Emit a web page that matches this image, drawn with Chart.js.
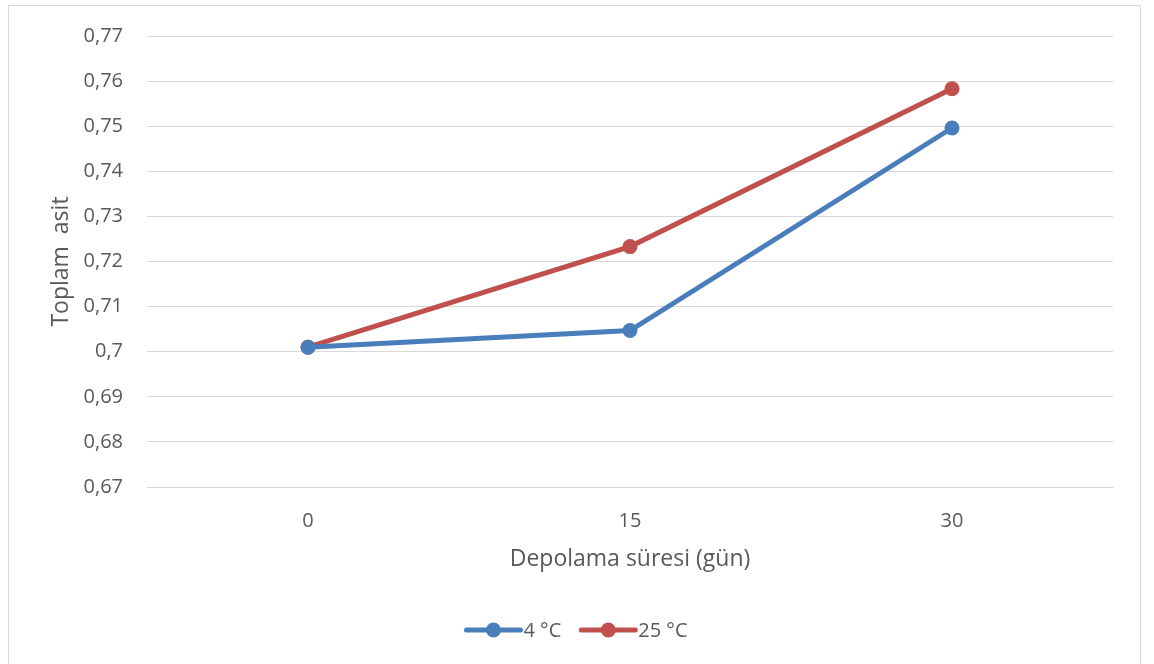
<!DOCTYPE html>
<html>
<head>
<meta charset="utf-8">
<script src="https://cdn.jsdelivr.net/npm/chart.js@4/dist/chart.umd.min.js"></script>
<style>
  html, body { margin: 0; padding: 0; background: #fff; overflow: hidden; }
  #wrap { position: relative; width: 1154px; height: 664px; }
  #frame { position: absolute; left: 8px; top: 5px; width: 1133px; height: 680px; border: 1px solid #d9d9d9; box-sizing: border-box; }
  canvas { position: absolute; left: 0; top: 0; }
</style>
</head>
<body>
<div id="wrap">
  <div id="frame"></div>
  <canvas id="c" width="1154" height="664"></canvas>
</div>
<script>
// Storage time (days) and total acidity per storage temperature
const days = ['0', '15', '30'];
const acid4C = [0.701, 0.7047, 0.7496];
const acid25C = [0.701, 0.7233, 0.7583];
const seriesNames = ['4 °C', '25 °C'];
const yTicks = [0.67, 0.68, 0.69, 0.70, 0.71, 0.72, 0.73, 0.74, 0.75, 0.76, 0.77];

const FONT = '"Open Sans", sans-serif';
const TEXT = '#595959';
const BLUE = '#4a7ebb';
const RED = '#c0504d';

// Legend drawn below the axis title: a line with a marker followed by the series name
const lineLegend = {
  id: 'lineLegend',
  afterDraw(chart) {
    const ctx = chart.ctx;
    const y = 630;
    ctx.save();
    ctx.font = '20px ' + FONT;
    ctx.textBaseline = 'middle';
    const items = chart.data.datasets.map(d => ({ label: d.label, color: d.borderColor }));
    const seg = 54, gap = 3, between = 20;
    const widths = items.map(it => seg + gap + ctx.measureText(it.label).width);
    const total = widths.reduce((a, b) => a + b, 0) + between * (items.length - 1);
    let x = chart.width / 2 - total / 2;
    items.forEach((it, i) => {
      ctx.strokeStyle = it.color;
      ctx.lineWidth = 5;
      ctx.lineCap = 'round';
      ctx.beginPath();
      ctx.moveTo(x, y);
      ctx.lineTo(x + seg, y);
      ctx.stroke();
      ctx.fillStyle = it.color;
      ctx.beginPath();
      ctx.arc(x + seg / 2, y, 7.5, 0, Math.PI * 2);
      ctx.fill();
      ctx.fillStyle = TEXT;
      ctx.textAlign = 'left';
      ctx.fillText(it.label, x + seg + gap, y + 1);
      x += widths[i] + between;
    });
    ctx.restore();
  }
};

new Chart(document.getElementById('c'), {
  type: 'line',
  data: {
    labels: days,
    datasets: [
      { label: seriesNames[0], data: acid4C, borderColor: BLUE, backgroundColor: BLUE,
        borderWidth: 5, pointRadius: 7.5, pointHoverRadius: 7.5, pointBackgroundColor: BLUE,
        pointBorderWidth: 0, tension: 0, borderCapStyle: 'round' },
      { label: seriesNames[1], data: acid25C, borderColor: RED, backgroundColor: RED,
        borderWidth: 5, pointRadius: 7.5, pointHoverRadius: 7.5, pointBackgroundColor: RED,
        pointBorderWidth: 0, tension: 0, borderCapStyle: 'round' }
    ]
  },
  options: {
    responsive: false,
    animation: false,
    events: [],
    layout: { padding: { left: 40, top: 35, right: 41, bottom: 87 } },
    plugins: { legend: { display: false }, tooltip: { enabled: false } },
    scales: {
      x: {
        offset: true,
        grid: { display: false, drawTicks: false },
        border: { display: true, color: '#d9d9d9', width: 1 },
        ticks: { color: TEXT, font: { family: FONT, size: 20 }, padding: 22 },
        title: { display: true, text: 'Depolama süresi (gün)', color: TEXT,
                 font: { family: FONT, size: 23 }, padding: { top: 3 } },
        afterFit(s) { s.height = 90; }
      },
      y: {
        min: 0.67, max: 0.77,
        afterBuildTicks(s) { s.ticks = yTicks.map(v => ({ value: v })); },
        grid: { color: '#d9d9d9', lineWidth: 1, drawTicks: false },
        border: { display: false },
        ticks: {
          color: TEXT, font: { family: FONT, size: 20 }, padding: 24,
          callback: v => String(Math.round(v * 100) / 100).replace('.', ',')
        },
        title: { display: true, text: 'Toplam  asit', color: TEXT,
                 font: { family: FONT, size: 23 }, padding: { top: 8, bottom: 0 } },
        afterFit(s) { s.width = 107; }
      }
    }
  },
  plugins: [lineLegend]
});
</script>
</body>
</html>
